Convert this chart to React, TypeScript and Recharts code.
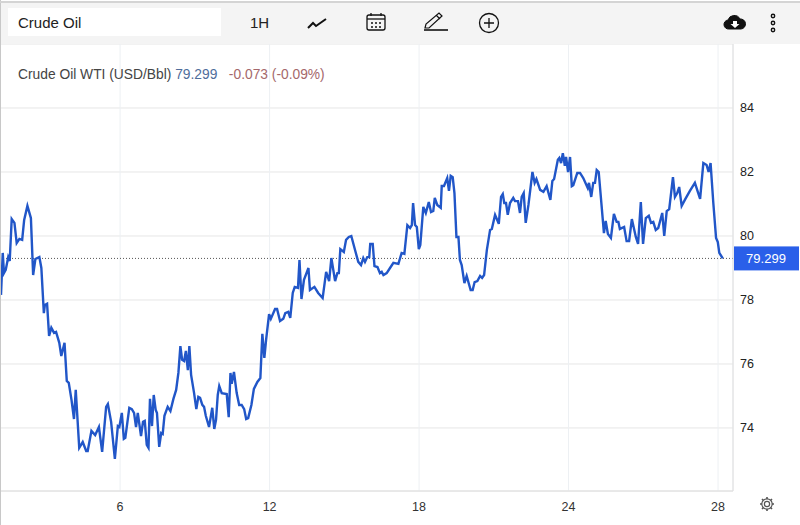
import { LineChart, Line, XAxis, YAxis, CartesianGrid, ReferenceLine } from 'recharts'

// x is a running session number, the axis labels skip a few calendar days at the end
const sessions = [
  1.22, 1.29, 1.34, 1.41, 1.51, 1.57, 1.65, 1.76, 1.85, 1.96, 2.07, 2.15, 2.28, 2.42, 2.51, 2.6, 2.76, 2.84, 2.94, 2.98,
  3.07, 3.15, 3.24, 3.35, 3.43, 3.56, 3.64, 3.77, 3.86, 3.94, 4.05, 4.15, 4.22, 4.36, 4.5, 4.64, 4.7, 4.85, 5.0, 5.15,
  5.28, 5.44, 5.51, 5.64, 5.79, 5.91, 5.97, 6.07, 6.15, 6.21, 6.37, 6.47, 6.56, 6.64, 6.71, 6.84, 6.92, 6.99, 7.07, 7.14,
  7.2, 7.28, 7.35, 7.43, 7.48, 7.57, 7.65, 7.71, 7.78, 7.91, 8.02, 8.14, 8.25, 8.34, 8.42, 8.49, 8.57, 8.64, 8.72, 8.78,
  8.85, 8.97, 9.06, 9.14, 9.21, 9.3, 9.37, 9.44, 9.57, 9.7, 9.78, 9.85, 9.92, 9.98, 10.08, 10.28, 10.36, 10.43, 10.48, 10.57,
  10.68, 10.78, 10.88, 10.98, 11.06, 11.14, 11.27, 11.37, 11.51, 11.63, 11.71, 11.79, 11.86, 11.98, 12.05, 12.22, 12.3, 12.42, 12.55, 12.63,
  12.75, 12.83, 12.93, 13.01, 13.14, 13.2, 13.28, 13.38, 13.56, 13.62, 13.8, 13.95, 14.13, 14.27, 14.39, 14.48, 14.63, 14.72, 14.78, 14.84,
  14.98, 15.07, 15.18, 15.28, 15.43, 15.56, 15.67, 15.76, 15.83, 15.92, 16.0, 16.04, 16.14, 16.21, 16.33, 16.43, 16.5, 16.57, 16.7, 16.86,
  16.97, 17.17, 17.3, 17.41, 17.53, 17.64, 17.71, 17.76, 17.84, 17.91, 17.99, 18.05, 18.17, 18.27, 18.39, 18.48, 18.57, 18.63, 18.73, 18.87,
  18.91, 19.0, 19.13, 19.2, 19.27, 19.35, 19.42, 19.5, 19.58, 19.64, 19.71, 19.82, 19.91, 20.07, 20.15, 20.23, 20.34, 20.45, 20.53, 20.61,
  20.72, 20.85, 20.92, 21.05, 21.2, 21.29, 21.36, 21.42, 21.49, 21.56, 21.65, 21.78, 21.85, 21.97, 22.05, 22.12, 22.2, 22.28, 22.39, 22.55,
  22.64, 22.71, 22.86, 22.99, 23.12, 23.27, 23.35, 23.42, 23.57, 23.63, 23.7, 23.77, 23.85, 23.9, 23.98, 24.06, 24.13, 24.19, 24.35, 24.46,
  24.59, 24.77, 24.82, 24.91, 24.99, 25.06, 25.13, 25.21, 25.42, 25.49, 25.58, 25.7, 25.82, 25.93, 26.0, 26.06, 26.23, 26.33, 26.43, 26.54,
  26.7, 26.79, 26.9, 26.99, 27.1, 27.22, 27.31, 27.4, 27.5, 27.6, 27.76, 27.84, 27.94, 28.04, 28.19, 28.27, 28.36, 28.44, 28.54, 28.69,
  28.87, 29.07, 29.28, 29.41, 29.54, 29.62, 29.7, 29.81, 29.92, 29.99, 30.05, 30.19
]

const prices = [
  78.16, 79.47, 78.84, 78.94, 79.34, 79.22, 80.53, 80.41, 79.78, 79.91, 79.88, 80.5, 80.94, 80.56, 78.78, 79.28, 79.34, 79.0, 77.59, 77.84,
  77.88, 76.88, 77.13, 76.97, 77.0, 76.66, 76.25, 76.66, 75.47, 75.41, 74.88, 74.28, 75.19, 73.38, 73.56, 73.28, 73.28, 73.91, 73.78, 74.03,
  73.25, 74.66, 74.75, 74.19, 73.03, 74.06, 74.03, 74.47, 73.66, 73.69, 74.63, 74.59, 74.47, 74.03, 74.47, 73.75, 74.19, 74.22, 73.47, 73.38,
  74.91, 74.06, 75.03, 74.56, 74.47, 73.41, 73.84, 73.81, 74.38, 74.66, 74.53, 74.91, 75.19, 75.72, 76.56, 76.13, 76.09, 76.41, 75.81, 76.56,
  75.66, 75.09, 74.59, 74.97, 74.94, 74.72, 74.66, 74.38, 74.03, 74.63, 73.97, 74.25, 75.03, 75.31, 75.09, 75.06, 74.34, 75.72, 75.38, 75.75,
  75.09, 74.72, 74.72, 74.59, 74.28, 74.31, 74.72, 75.22, 75.44, 75.56, 76.94, 76.19, 76.75, 77.56, 77.41, 77.72, 77.72, 77.34, 77.41, 77.59,
  77.63, 77.44, 78.22, 78.41, 78.38, 79.25, 78.03, 78.63, 79.0, 78.31, 78.41, 78.22, 78.06, 78.88, 78.59, 79.31, 78.59, 78.84, 78.84, 79.59,
  79.5, 79.88, 79.97, 80.0, 79.56, 79.19, 79.09, 79.31, 79.19, 79.34, 79.34, 79.75, 79.75, 79.06, 79.03, 78.84, 78.88, 78.78, 78.84, 79.03,
  79.16, 79.13, 79.47, 79.44, 80.34, 80.25, 80.34, 81.03, 80.34, 80.28, 79.59, 79.72, 80.91, 80.72, 81.06, 80.75, 80.78, 81.19, 80.97, 80.88,
  81.56, 81.56, 81.81, 81.41, 81.88, 81.84, 81.34, 79.97, 79.97, 79.25, 79.09, 78.53, 78.75, 78.31, 78.31, 78.56, 78.59, 78.75, 78.69, 78.78,
  79.56, 80.19, 80.22, 80.66, 80.38, 81.22, 81.31, 81.03, 81.03, 80.66, 81.03, 81.19, 81.09, 81.09, 80.72, 81.22, 81.34, 80.41, 80.97, 82.0,
  81.66, 81.78, 81.44, 81.38, 81.56, 81.13, 81.72, 81.78, 82.38, 82.44, 82.28, 82.59, 82.19, 82.47, 82.0, 82.47, 81.56, 81.59, 81.97, 81.97,
  81.81, 81.5, 81.66, 81.22, 81.66, 81.66, 82.06, 82.0, 80.09, 80.47, 80.06, 79.94, 80.69, 80.44, 80.44, 80.22, 80.28, 79.84, 79.84, 80.53,
  79.97, 79.75, 81.06, 79.75, 80.56, 80.63, 80.41, 80.44, 80.19, 80.25, 80.72, 80.0, 80.78, 80.84, 81.84, 81.22, 81.34, 81.53, 80.94, 81.16,
  81.41, 81.66, 81.16, 82.28, 82.22, 82.0, 82.28, 81.03, 79.94, 79.81, 79.47, 79.3
]

const xTicks = [6, 12, 18, 24, 30]
const xTickLabels = ['6', '12', '18', '24', '28']
const yTicks = [74, 76, 78, 80, 82, 84]
const lastPrice = 79.299

const chartData = sessions.map((s, i) => ({ session: s, price: prices[i] }))

const PriceTag = ({ viewBox }: any) => {
  const right = viewBox.x + viewBox.width
  return (
    <g>
      <rect x={right + 1} y={viewBox.y - 12} width={65} height={24} fill="#2a5fe9" />
      <text x={right + 33} y={viewBox.y + 5} textAnchor="middle" fontSize={13} fill="#fff" fontFamily="Liberation Sans">
        {lastPrice}
      </text>
    </g>
  )
}

const Toolbar = () => (
  <div style={{ position: 'absolute', left: 1, top: 3, width: 799, height: 41, background: '#f4f4f4', fontFamily: 'Liberation Sans', color: '#222' }}>
    <div style={{ position: 'absolute', left: 7, top: 5, width: 213, height: 28, background: '#fff', fontSize: 15, lineHeight: '30px', paddingLeft: 10, boxSizing: 'border-box' }}>Crude Oil</div>
    <div style={{ position: 'absolute', left: 249, top: 11, fontSize: 15 }}>1H</div>
    <svg style={{ position: 'absolute', left: 0, top: 0 }} width={799} height={41} viewBox="0 3 799 41" fill="none" stroke="#111">
      {/* line icon */}
      <polyline points="307,28 312,23 315,26 325,19" strokeWidth={2} />
      {/* calendar */}
      <rect x={366} y={15} width={18} height={15} rx={2} strokeWidth={1.3} />
      <line x1={366} y1={19} x2={384} y2={19} strokeWidth={1.3} />
      <line x1={370} y1={13} x2={370} y2={16} strokeWidth={1.3} />
      <line x1={380} y1={13} x2={380} y2={16} strokeWidth={1.3} />
      <path d="M370 23h2M374 23h2M378 23h2M370 27h2M374 27h2M378 27h2" strokeWidth={1.5} />
      {/* pencil */}
      <path d="M424 28 L425 24 L438 13 L441 16 L428 28 Z M435 15 L439 19" strokeWidth={1.2} />
      <line x1={423} y1={30} x2={447} y2={30} strokeWidth={1.6} />
      {/* plus */}
      <circle cx={488} cy={23} r={9.5} strokeWidth={1.3} />
      <path d="M483 23h10M488 18v10" strokeWidth={1.3} />
      {/* cloud download */}
      <path d="M728 29 a4.500 4.500 0 0 1 -1 -9 a6.500 6.500 0 0 1 12 -1 a5 5 0 0 1 1 10 Z" fill="#111" />
      <path d="M732 21h4v3h2.500l-4.500 4l-4.500 -4h2.500z" fill="#fff" stroke="none" />
      {/* menu dots */}
      <circle cx={772} cy={16} r={1.7} strokeWidth={1.4} />
      <circle cx={772} cy={23} r={1.7} strokeWidth={1.4} />
      <circle cx={772} cy={30} r={1.7} strokeWidth={1.4} />
    </svg>
  </div>
)

const Gear = () => (
  <svg style={{ position: 'absolute', left: 759, top: 496 }} width={16} height={16} viewBox="0 0 16 16" fill="none" stroke="#555" strokeWidth={1.2}>
    <circle cx={8} cy={8} r={2.6} />
    <circle cx={8} cy={8} r={5.2} />
    <path d="M8 1v2M8 13v2M1 8h2M13 8h2M3 3l1.400 1.400M11.600 11.600L13 13M3 13l1.400 -1.400M11.600 4.400L13 3" strokeWidth={1.6} />
  </svg>
)

export default function App() {
  return (
    <div style={{ position: 'absolute', left: 0, top: 0, width: 800, height: 525, background: '#fff', overflow: 'hidden' }}>
      <LineChart width={800} height={525} data={chartData} margin={{ top: 44, right: 0, bottom: 0, left: 0 }}>
        <CartesianGrid stroke="#e6e6e6" vertical={false} />
        <CartesianGrid stroke="#edf0f3" horizontal={false} />
        <XAxis
          type="number"
          dataKey="session"
          domain={[1.18, 30.6]}
          ticks={xTicks}
          tickFormatter={(v: number) => xTickLabels[xTicks.indexOf(v)]}
          interval={0}
          height={34}
          tickLine={false}
          tickMargin={5}
          stroke="#dedede"
          tick={{ fill: '#333', fontSize: 12.5, fontFamily: 'Liberation Sans' }}
          allowDataOverflow
        />
        <YAxis
          orientation="right"
          type="number"
          domain={[72.03, 86]}
          ticks={yTicks}
          interval={0}
          width={67}
          tickLine={false}
          tickMargin={1}
          stroke="#dedede"
          tick={{ fill: '#222', fontSize: 12.5, fontFamily: 'Liberation Sans' }}
          allowDataOverflow
        />
        <ReferenceLine y={lastPrice} stroke="#555" strokeDasharray="1 2" label={<PriceTag />} />
        <Line type="linear" dataKey="price" stroke="#2156c8" strokeWidth={2.4} dot={false} isAnimationActive={false} />
      </LineChart>
      <Toolbar />
      <div style={{ position: 'absolute', left: 0, top: 0, width: 1, height: 525, background: '#c8c8c8' }} />
      <div style={{ position: 'absolute', left: 0, top: 1, width: 800, height: 2, background: '#d4d4d4' }} />
      <div style={{ position: 'absolute', left: 18, top: 67, fontSize: 13.8, fontFamily: 'Liberation Sans', color: '#444', whiteSpace: 'pre' }}>
        Crude Oil WTI (USD/Bbl) <span style={{ color: '#4f6d9b' }}>79.299</span>{'   '}
        <span style={{ color: '#a5686b' }}>-0.073 (-0.09%)</span>
      </div>
      <Gear />
    </div>
  )
}
